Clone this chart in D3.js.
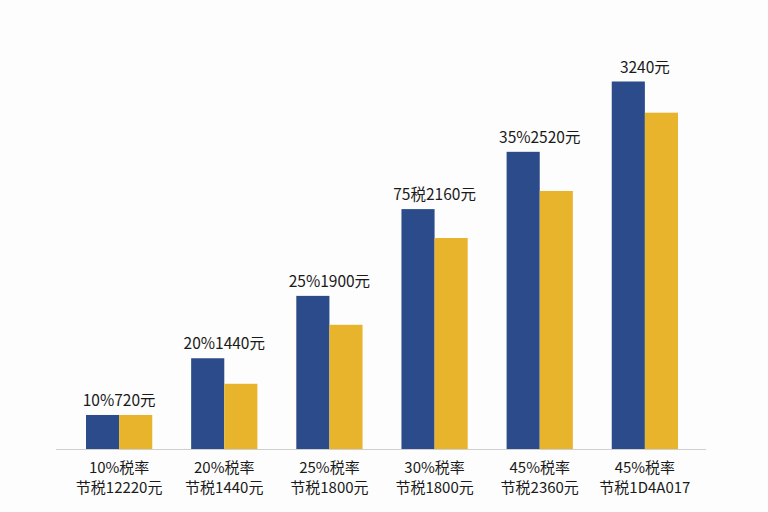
<!DOCTYPE html>
<html>
<head>
<meta charset="utf-8">
<script src="https://cdn.jsdelivr.net/npm/d3@7"></script>
<style>
  body { margin: 0; background: #fdfdfd; }
  svg { display: block; }
  text { font-family: "Noto Sans CJK SC", "Noto Sans", sans-serif; fill: #1a1a1a; }
</style>
</head>
<body>
<svg width="768" height="512"></svg>
<script>
// data
const groups = ["g1", "g2", "g3", "g4", "g5", "g6"];
const blueValues = [300, 800, 1350, 2115, 2620, 3240];
const yellowValues = [300, 575, 1095, 1860, 2275, 2965];
const topLabels = ["10%720元", "20%1440元", "25%1900元", "75税2160元", "35%2520元", "3240元"];
const rateLabels = ["10%税率", "20%税率", "25%税率", "30%税率", "45%税率", "45%税率"];
const saveLabels = ["节税12220元", "节税1440元", "节税1800元", "节税1800元", "节税2360元", "节税1D4A017"];

const series = ["blue", "yellow"];
const colors = { blue: "#2b4b8b", yellow: "#e8b42c" };

const svg = d3.select("svg");
const baseY = 449;

// SCALES
const x0 = d3.scaleBand()
    .domain(groups)
    .range([86, 678])
    .paddingInner(0.37)
    .paddingOuter(0);

const x1 = d3.scaleBand()
    .domain(series)
    .range([0, x0.bandwidth()]);

const y = d3.scaleLinear()
    .domain([0, 3240])
    .range([baseY, 81.5]);

const rows = groups.map((g, i) => ({
    g: g,
    blue: blueValues[i],
    yellow: yellowValues[i],
    top: topLabels[i],
    rate: rateLabels[i],
    save: saveLabels[i]
}));

// baseline
svg.append("line")
    .attr("x1", 56).attr("x2", 706)
    .attr("y1", baseY + 0.5).attr("y2", baseY + 0.5)
    .attr("stroke", "#cfcfcf")
    .attr("stroke-width", 1);

// BARS
const grp = svg.selectAll("g.group")
    .data(rows)
    .join("g")
    .attr("class", "group")
    .attr("transform", d => `translate(${x0(d.g)},0)`);

grp.selectAll("rect")
    .data(d => series.map(s => ({ s: s, v: d[s] })))
    .join("rect")
    .attr("x", d => x1(d.s))
    .attr("width", x1.bandwidth())
    .attr("y", d => y(d.v))
    .attr("height", d => baseY - y(d.v))
    .attr("fill", d => colors[d.s]);

// value labels above bars
grp.append("text")
    .attr("x", x0.bandwidth() / 2)
    .attr("y", d => y(d.blue) - 9)
    .attr("text-anchor", "middle")
    .attr("font-size", 15.5)
    .text(d => d.top);

// category labels
grp.append("text")
    .attr("x", x0.bandwidth() / 2)
    .attr("y", 473)
    .attr("text-anchor", "middle")
    .attr("font-size", 15)
    .text(d => d.rate);

grp.append("text")
    .attr("x", x0.bandwidth() / 2)
    .attr("y", 493)
    .attr("text-anchor", "middle")
    .attr("font-size", 15)
    .text(d => d.save);
</script>
</body>
</html>
